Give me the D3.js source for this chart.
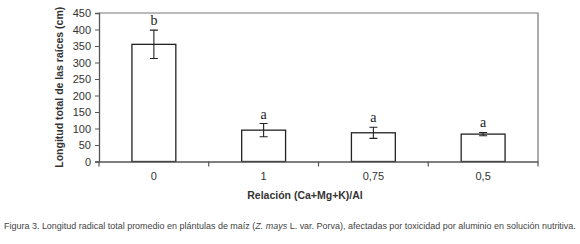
<!DOCTYPE html>
<html>
<head>
<meta charset="utf-8">
<script src="https://cdn.jsdelivr.net/npm/d3@7"></script>
<style>
  body { margin: 0; background: #fff; }
  svg { display: block; }
</style>
</head>
<body>
<div id="chart"></div>
<script>
// Data
const categories = ['0', '1', '0,75', '0,5']
const means = [355, 95, 87, 83]
const errors = [43, 20, 17, 5]
const letters = ['b', 'a', 'a', 'a']
const yTicks = [0, 50, 100, 150, 200, 250, 300, 350, 400, 450]

// Dimensions
let dimensions = {
  width: 580,
  height: 244,
  left: 99,
  right: 538,
  top: 13,
  bottom: 161.5
}

const ink = '#333'

const svg = d3.select('#chart')
  .append('svg')
    .attr('width', dimensions.width)
    .attr('height', dimensions.height)

// Scales
const x = d3.scaleBand()
  .domain(categories)
  .range([dimensions.left, dimensions.right])
  .paddingInner(0.6)
  .paddingOuter(0.3)

const y = d3.scaleLinear()
  .domain([0, 450])
  .range([dimensions.bottom, dimensions.top])

// frame (top + right)
svg.append('path')
  .attr('d', `M${dimensions.left},${dimensions.top}H${dimensions.right}V${dimensions.bottom}`)
  .attr('fill', 'none')
  .attr('stroke', '#777')
  .attr('stroke-width', 1.2)

// bars
svg.selectAll('rect.bar')
  .data(means)
  .join('rect')
  .attr('class', 'bar')
  .attr('x', (d, i) => x(categories[i]))
  .attr('y', d => y(d))
  .attr('width', x.bandwidth())
  .attr('height', d => y(0) - y(d))
  .attr('fill', '#fff')
  .attr('stroke', '#222')
  .attr('stroke-width', 1.3)

// error bars
const eg = svg.selectAll('g.err')
  .data(means)
  .join('g')
  .attr('class', 'err')
  .attr('transform', (d, i) => `translate(${x(categories[i]) + x.bandwidth() / 2},0)`)

eg.append('path')
  .attr('d', (d, i) => {
    const t = y(d + errors[i]), b = y(d - errors[i])
    return `M-4,${t}H4M0,${t}V${b}M-4,${b}H4`
  })
  .attr('fill', 'none')
  .attr('stroke', '#222')
  .attr('stroke-width', 1.1)

eg.append('text')
  .attr('y', (d, i) => y(d + errors[i]) - 5)
  .attr('text-anchor', 'middle')
  .attr('font-family', 'Liberation Serif, serif')
  .attr('font-size', 14)
  .attr('fill', '#222')
  .text((d, i) => letters[i])

// y axis
const yAxis = svg.append('g')
  .attr('transform', `translate(${dimensions.left},0)`)
  .call(d3.axisLeft(y).tickValues(yTicks).tickSize(4).tickPadding(4))

yAxis.select('.domain').attr('stroke', '#555').attr('stroke-width', 1.3)
yAxis.selectAll('.tick line').attr('stroke', '#555')
yAxis.selectAll('.tick text')
  .attr('font-family', 'Liberation Sans, Arial, sans-serif')
  .attr('font-size', 11)
  .attr('fill', ink)

// x axis: ticks between categories
const xAxis = svg.append('g')
  .attr('transform', `translate(0,${dimensions.bottom})`)
  .call(d3.axisBottom(x).tickSize(0).tickPadding(11))

xAxis.select('.domain').attr('stroke', '#555').attr('stroke-width', 1.3)
xAxis.selectAll('.tick text')
  .attr('font-family', 'Liberation Sans, Arial, sans-serif')
  .attr('font-size', 11)
  .attr('fill', ink)

xAxis.selectAll('line.sep')
  .data(d3.range(categories.length + 1))
  .join('line')
  .attr('class', 'sep')
  .attr('x1', i => dimensions.left + i * (dimensions.right - dimensions.left) / categories.length)
  .attr('x2', i => dimensions.left + i * (dimensions.right - dimensions.left) / categories.length)
  .attr('y1', 0)
  .attr('y2', 5)
  .attr('stroke', '#555')
  .attr('stroke-width', 1.2)

// axis titles
svg.append('text')
  .attr('transform', `translate(63,${(dimensions.top + dimensions.bottom) / 2}) rotate(-90)`)
  .attr('text-anchor', 'middle')
  .attr('font-family', 'Liberation Sans, Arial, sans-serif')
  .attr('font-weight', 'bold')
  .attr('font-size', 10.5)
  .attr('fill', ink)
  .text('Longitud total de las raíces (cm)')

svg.append('text')
  .attr('x', 305)
  .attr('y', 199)
  .attr('text-anchor', 'middle')
  .attr('font-family', 'Liberation Sans, Arial, sans-serif')
  .attr('font-weight', 'bold')
  .attr('font-size', 10.5)
  .attr('fill', ink)
  .text('Relación (Ca+Mg+K)/Al')

// caption, font size fitted to the width of the reference line
const cap = svg.append('text')
  .attr('x', 4)
  .attr('y', 229)
  .attr('font-family', 'Liberation Sans Narrow, Arial Narrow, sans-serif')
  .attr('font-size', 10)
  .attr('fill', '#444')

cap.append('tspan').text('Figura 3. Longitud radical total promedio en plántulas de maíz (')
cap.append('tspan').attr('font-style', 'italic').text('Z. mays')
cap.append('tspan').text(' L. var. Porva), afectadas por toxicidad por aluminio en solución nutritiva.')

const w = cap.node().getComputedTextLength()
cap.attr('font-size', Math.min(11.5, 10 * 572 / w))
</script>
</body>
</html>
